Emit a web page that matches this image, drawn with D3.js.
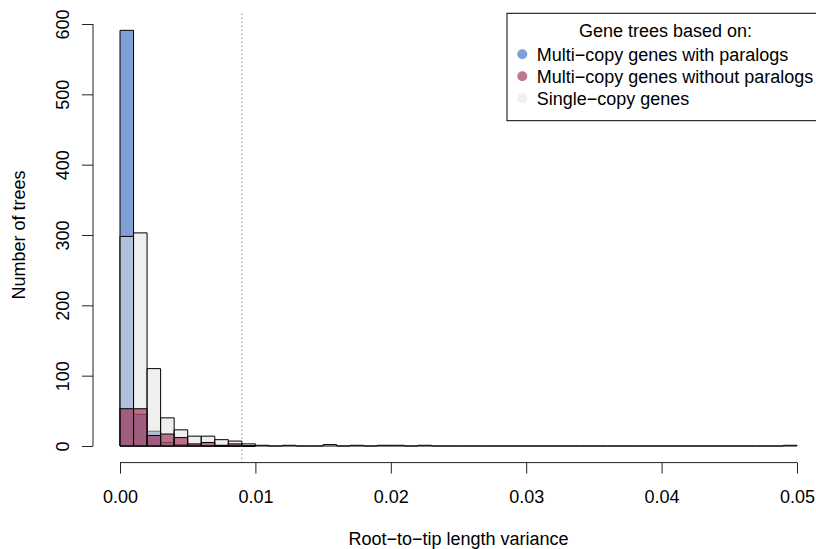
<!DOCTYPE html>
<html>
<head>
<meta charset="utf-8">
<script src="https://cdn.jsdelivr.net/npm/d3@7"></script>
<style>
  body { margin: 0; background: #fff; }
  text { font-family: "Liberation Sans", Arial, sans-serif; font-size: 18px; fill: #000; }
</style>
</head>
<body>
<script>
// bin width 0.001, counts per bin starting at 0
var binWidth = 0.001;
var withParalogs = [591, 45, 21, 5, 2, 1, 0, 0, 0, 0];
var withoutParalogs = [53, 53, 15, 17, 12, 3, 5, 1, 3, 0];
var singleCopy = [298, 303, 110, 40, 23, 14, 14, 9, 7, 3,
                  1, 0, 1, 0, 0, 2, 0, 1, 0, 1,
                  1, 0, 1, 0, 0, 0, 0, 0, 0, 0,
                  0, 0, 0, 0, 0, 0, 0, 0, 0, 0,
                  0, 0, 0, 0, 0, 0, 0, 0, 0, 1];
var xTicks = [0, 0.01, 0.02, 0.03, 0.04, 0.05];
var yTicks = [0, 100, 200, 300, 400, 500, 600];
var cutoff = 0.009;
var legendTitle = "Gene trees based on:";
var legendLabels = ["Multi\u2212copy genes with paralogs", "Multi\u2212copy genes without paralogs", "Single\u2212copy genes"];

var width = 816;
var height = 549;

var colBlue = "rgba(42,95,185,0.6)";
var colPink = "rgba(144,18,59,0.57)";
var colGrey = "rgba(224,224,224,0.52)";

var svg = d3.select("body").append("svg")
  .attr("width", width)
  .attr("height", height);

var x = d3.scaleLinear().domain([0, 0.05]).range([120, 797]);
var y = d3.scaleLinear().domain([0, 600]).range([446, 24]);

// plot region edges (R style 4% padding)
var plotTop = y(614.6);
var plotBottom = y(-23.6);
var axisX = 93;

// bars as closed paths so that empty bins still leave a line on the baseline
function drawHist(counts, fill) {
  svg.append("g")
    .selectAll("path")
    .data(counts)
    .enter().append("path")
    .attr("d", function(d, i) {
      var x0 = x(i * binWidth), x1 = x((i + 1) * binWidth);
      return "M" + x0 + "," + y(0) + "V" + y(d) + "H" + x1 + "V" + y(0) + "Z";
    })
    .attr("fill", fill)
    .attr("stroke", "#000")
    .attr("stroke-width", 1);
}

drawHist(withParalogs, colBlue);
drawHist(singleCopy, colGrey);
drawHist(withoutParalogs, colPink);

// dotted cutoff line
svg.append("line")
  .attr("x1", x(cutoff)).attr("x2", x(cutoff))
  .attr("y1", plotTop).attr("y2", plotBottom)
  .attr("stroke", "#555")
  .attr("stroke-width", 1)
  .attr("stroke-dasharray", "1,3");

// x axis
var xAxis = d3.axisBottom(x)
  .tickValues(xTicks)
  .tickSize(11)
  .tickPadding(8)
  .tickFormat(d3.format(".2f"));
var gx = svg.append("g")
  .attr("transform", "translate(0," + plotBottom + ")")
  .call(xAxis);
gx.select(".domain").attr("d", "M" + x(0) + ",0H" + x(0.05)).attr("stroke", "#222");
gx.selectAll(".tick line").attr("stroke", "#222");
gx.selectAll(".tick text")
  .attr("font-family", null).attr("font-size", null)
  .attr("dy", null).attr("y", 503.5 - plotBottom);

// y axis
var yAxis = d3.axisLeft(y)
  .tickValues(yTicks)
  .tickSize(11);
var gy = svg.append("g")
  .attr("transform", "translate(" + axisX + ",0)")
  .call(yAxis);
gy.select(".domain").attr("d", "M0," + y(0) + "V" + y(600)).attr("stroke", "#222");
gy.selectAll(".tick line").attr("stroke", "#222");
gy.selectAll(".tick text")
  .attr("font-family", null).attr("font-size", null)
  .attr("x", null).attr("dy", null)
  .attr("text-anchor", "middle")
  .attr("transform", "translate(" + (68.5 - axisX) + ",0) rotate(-90)");

// axis titles
svg.append("text")
  .attr("x", x(0.025))
  .attr("y", 545)
  .attr("text-anchor", "middle")
  .text("Root\u2212to\u2212tip length variance");

svg.append("text")
  .attr("transform", "translate(25," + y(300) + ") rotate(-90)")
  .attr("text-anchor", "middle")
  .text("Number of trees");

// legend
var legend = svg.append("g");
legend.append("rect")
  .attr("x", 507).attr("y", 13.3)
  .attr("width", 317).attr("height", 107.4)
  .attr("fill", "#fff")
  .attr("stroke", "#000")
  .attr("stroke-width", 1);
legend.append("text")
  .attr("x", 665.5).attr("y", 36.5)
  .attr("text-anchor", "middle")
  .text(legendTitle);

var legendCols = [colBlue, colPink, colGrey];
var items = legend.selectAll(".item")
  .data(legendLabels)
  .enter().append("g")
  .attr("transform", function(d, i) { return "translate(0," + (54.3 + i * 22) + ")"; });
items.append("circle")
  .attr("cx", 522.3).attr("cy", 0).attr("r", 5)
  .attr("fill", function(d, i) { return legendCols[i]; });
items.append("text")
  .attr("x", 536.7).attr("y", 6.5)
  .text(function(d) { return d; });
</script>
</body>
</html>
